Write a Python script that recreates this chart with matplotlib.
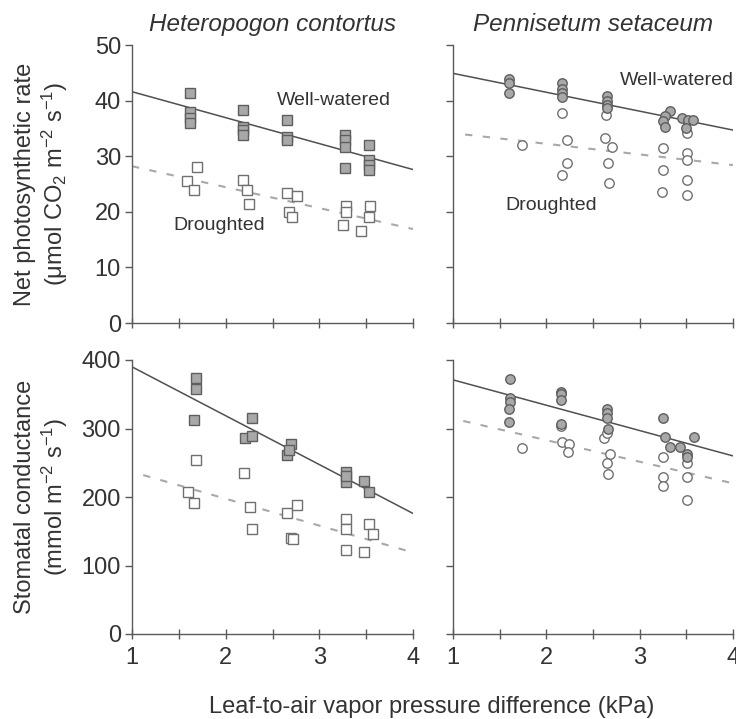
import matplotlib
matplotlib.use("Agg")
import matplotlib.pyplot as plt
from matplotlib.ticker import MultipleLocator, FixedLocator

plt.rcParams["font.family"] = ["Liberation Sans", "DejaVu Sans"]
plt.rcParams["mathtext.fontset"] = "custom"
plt.rcParams["mathtext.rm"] = "Liberation Sans"
plt.rcParams["mathtext.it"] = "Liberation Sans:italic"

# Heteropogon contortus, net photosynthetic rate
hc_a_ww_x = [1.62, 1.62, 1.62, 1.62, 2.19, 2.19, 2.19, 2.19, 2.65, 2.65, 2.65,
             3.27, 3.27, 3.27, 3.27, 3.53, 3.53, 3.53, 3.53]
hc_a_ww_y = [41.4, 38.0, 36.9, 35.9, 38.3, 35.3, 34.7, 33.8, 36.5, 33.5, 32.9,
             33.8, 32.9, 31.7, 27.9, 32.0, 29.3, 28.4, 27.5]
hc_a_dr_x = [1.69, 1.59, 1.66, 2.18, 2.23, 2.25, 2.66, 2.76, 2.68, 2.71,
             3.29, 3.29, 3.25, 3.45, 3.54, 3.53]
hc_a_dr_y = [28.1, 25.6, 23.9, 25.7, 23.9, 21.4, 23.3, 22.9, 20.0, 19.1,
             21.0, 20.0, 17.6, 16.6, 21.1, 19.0]

# Pennisetum setaceum, net photosynthetic rate
ps_a_ww_x = [1.60, 1.60, 1.60, 2.17, 2.17, 2.17, 2.17, 2.65, 2.65, 2.65, 2.65,
             3.33, 3.27, 3.25, 3.27, 3.45, 3.52, 3.57, 3.50]
ps_a_ww_y = [43.9, 43.1, 41.4, 43.1, 42.1, 41.4, 40.6, 40.9, 40.0, 39.2, 38.7,
             38.1, 37.2, 36.3, 35.3, 36.8, 36.5, 36.5, 35.1]
ps_a_dr_x = [1.74, 2.17, 2.22, 2.22, 2.17, 2.64, 2.63, 2.70, 2.66, 2.67,
             3.25, 3.25, 3.24, 3.51, 3.51, 3.51, 3.51, 3.51]
ps_a_dr_y = [32.0, 37.8, 32.9, 28.7, 26.6, 37.4, 33.2, 31.7, 28.7, 25.2,
             31.4, 27.5, 23.5, 34.1, 30.6, 29.3, 25.7, 23.0]

# Heteropogon contortus, stomatal conductance
hc_g_ww_x = [1.68, 1.68, 1.66, 2.28, 2.21, 2.28, 2.66, 2.70, 2.68,
             3.28, 3.29, 3.29, 3.48, 3.53]
hc_g_ww_y = [373, 357, 313, 316, 286, 289, 261, 278, 269, 237, 222, 231, 223, 207]
hc_g_dr_x = [1.68, 1.60, 1.66, 2.20, 2.26, 2.28, 2.66, 2.76, 2.70, 2.72,
             3.28, 3.29, 3.28, 3.48, 3.53, 3.57]
hc_g_dr_y = [254, 207, 191, 235, 185, 153, 177, 188, 140, 138,
             168, 153, 123, 119, 161, 146]

# Pennisetum setaceum, stomatal conductance
ps_g_ww_x = [1.61, 1.61, 1.61, 1.60, 1.60, 2.16, 2.16, 2.16, 2.16,
             2.65, 2.65, 2.65, 2.66, 3.25, 3.27, 3.33, 3.43, 3.58, 3.51, 3.51]
ps_g_ww_y = [372, 344, 339, 328, 310, 354, 350, 342, 307,
             329, 322, 316, 300, 316, 287, 273, 273, 288, 263, 259]
ps_g_dr_x = [1.74, 2.16, 2.17, 2.24, 2.23, 2.62, 2.65, 2.68, 2.65, 2.66,
             3.25, 3.25, 3.25, 3.51, 3.51, 3.51]
ps_g_dr_y = [271, 304, 281, 278, 266, 286, 293, 263, 249, 234,
             258, 229, 216, 249, 229, 196]

# regression lines: (x0, x1), (y0, y1)
hc_a_ww_line = ([1.0, 4.0], [41.6, 27.6])
hc_a_dr_line = ([1.0, 4.0], [28.2, 16.9])
ps_a_ww_line = ([1.0, 4.0], [44.9, 34.7])
ps_a_dr_line = ([1.13, 4.0], [33.9, 28.4])
hc_g_ww_line = ([1.0, 4.0], [390, 176])
hc_g_dr_line = ([1.12, 4.0], [232, 119])
ps_g_ww_line = ([1.0, 4.0], [371, 260])
ps_g_dr_line = ([1.11, 4.0], [311, 220])

species = ["Heteropogon contortus", "Pennisetum setaceum"]
xticks = [1, 2, 3, 4]

TXT = "#333333"
AX = "#5a5a5a"
FILL = "#a8a8a8"

W, H = 736, 719
fig = plt.figure(figsize=(W / 100, H / 100), dpi=100)


def make_ax(l, r, t, b):
    return fig.add_axes([l / W, 1 - b / H, (r - l) / W, (b - t) / H])


ax_tl = make_ax(132, 413, 45, 323)
ax_tr = make_ax(453, 733, 45, 323)
ax_bl = make_ax(132, 413, 360, 634)
ax_br = make_ax(453, 733, 360, 634)


def panel(ax, wx, wy, dx, dy, wline, dline, marker, ylim, ystep, labels):
    ax.plot(*wline, color="#505050", lw=1.1, zorder=2)
    ax.plot(*dline, color="#a8a8a8", lw=1.5, dashes=(3.5, 5), zorder=2)
    ax.plot(dx, dy, ls="none", marker=marker, ms=6.8, mfc="white", mec="#707070",
            mew=1.0, zorder=3)
    ax.plot(wx, wy, ls="none", marker=marker, ms=6.8, mfc=FILL, mec="#5e5e5e",
            mew=1.0, zorder=4)
    ax.set_xlim(1, 4)
    ax.set_ylim(*ylim)
    ax.xaxis.set_major_locator(FixedLocator(xticks))
    ax.xaxis.set_minor_locator(MultipleLocator(0.5))
    ax.yaxis.set_major_locator(MultipleLocator(ystep))
    for s in ["top", "right"]:
        ax.spines[s].set_visible(False)
    for s in ["left", "bottom"]:
        ax.spines[s].set_color(AX)
        ax.spines[s].set_linewidth(1.0)
    ax.tick_params(axis="x", which="both", direction="inout", length=7,
                   width=1.0, color=AX, labelsize=17, labelcolor=TXT, pad=6)
    ax.tick_params(axis="y", which="both", direction="out", length=5,
                   width=1.0, color=AX, labelsize=17, labelcolor=TXT, pad=3)
    ax.tick_params(axis="x", labelbottom=False)
    if not labels:
        ax.tick_params(axis="y", labelleft=False)


panel(ax_tl, hc_a_ww_x, hc_a_ww_y, hc_a_dr_x, hc_a_dr_y, hc_a_ww_line,
      hc_a_dr_line, "s", (0, 50), 10, True)
panel(ax_tr, ps_a_ww_x, ps_a_ww_y, ps_a_dr_x, ps_a_dr_y, ps_a_ww_line,
      ps_a_dr_line, "o", (0, 50), 10, False)
panel(ax_bl, hc_g_ww_x, hc_g_ww_y, hc_g_dr_x, hc_g_dr_y, hc_g_ww_line,
      hc_g_dr_line, "s", (0, 400), 100, True)
panel(ax_br, ps_g_ww_x, ps_g_ww_y, ps_g_dr_x, ps_g_dr_y, ps_g_ww_line,
      ps_g_dr_line, "o", (0, 400), 100, False)

for ax in (ax_bl, ax_br):
    ax.tick_params(axis="x", labelbottom=True)

ax_tl.set_title(species[0], style="italic", fontsize=17.5, color=TXT, pad=10)
ax_tr.set_title(species[1], style="italic", fontsize=17.5, color=TXT, pad=10)

ax_tl.text(2.55, 40.0, "Well-watered", fontsize=14, color=TXT, va="center")
ax_tl.text(1.44, 17.6, "Droughted", fontsize=14, color=TXT, va="center")
ax_tr.text(2.79, 43.7, "Well-watered", fontsize=14, color=TXT, va="center")
ax_tr.text(1.56, 21.2, "Droughted", fontsize=14, color=TXT, va="center")

ax_tl.set_ylabel("Net photosynthetic rate\n(\u03bcmol CO$_2$ m$^{-2}$ s$^{-1}$)",
                 fontsize=17, color=TXT, linespacing=1.15)
ax_tl.yaxis.set_label_coords(-0.222, 0.5)
ax_bl.set_ylabel("Stomatal conductance\n(mmol m$^{-2}$ s$^{-1}$)",
                 fontsize=17, color=TXT, linespacing=1.15)
ax_bl.yaxis.set_label_coords(-0.222, 0.5)

fig.text(432 / W, 1 - 707 / H, "Leaf-to-air vapor pressure difference (kPa)",
         ha="center", va="center", fontsize=17, color=TXT)

fig.savefig("out.png", dpi=100, facecolor="white")
